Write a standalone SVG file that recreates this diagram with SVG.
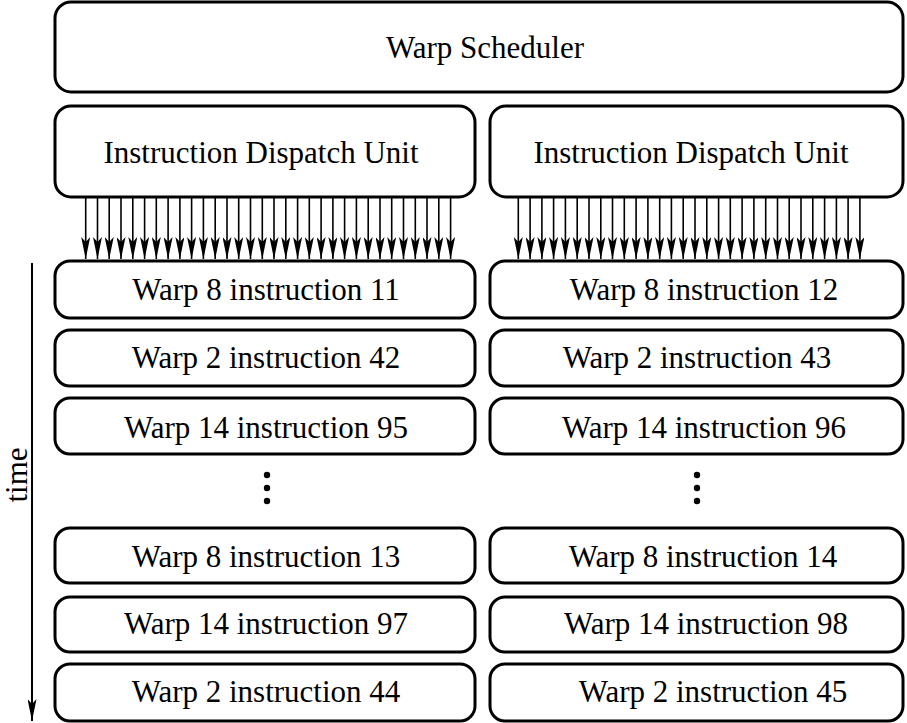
<svg xmlns="http://www.w3.org/2000/svg" width="907" height="723" viewBox="0 0 907 723">
<defs>
<style>
.box{fill:#fff;stroke:#000;stroke-width:3}
.t{font-family:"Liberation Serif","Times New Roman",serif;font-size:31px;fill:#000;text-anchor:middle}
#connectors line{stroke:#000;stroke-width:1.6;marker-end:url(#ah)}
</style>
<marker id="ah" viewBox="0 0 22 9" refX="22" refY="4.5" markerWidth="22" markerHeight="9" markerUnits="userSpaceOnUse" orient="auto">
<path d="M0,0 L22,4.5 L0,9 L5,4.5 Z" fill="#000"/>
</marker>
</defs>
<rect width="907" height="723" fill="#fff"/>
<g id="warp-scheduler"><rect class="box" x="55" y="2" width="848" height="90" rx="16"/><text class="t" x="485" y="58">Warp Scheduler</text></g>
<g id="dispatch-left"><rect class="box" x="55" y="106" width="420" height="91" rx="16"/><text class="t" x="261" y="163">Instruction Dispatch Unit</text></g>
<g id="dispatch-right"><rect class="box" x="490" y="106" width="413" height="91" rx="16"/><text class="t" x="691" y="163">Instruction Dispatch Unit</text></g>
<g id="l1"><rect class="box" x="55" y="261" width="420" height="57" rx="15"/><text class="t" x="266" y="300">Warp 8 instruction 11</text></g>
<g id="l2"><rect class="box" x="55" y="330" width="420" height="56" rx="15"/><text class="t" x="266" y="368">Warp 2 instruction 42</text></g>
<g id="l3"><rect class="box" x="55" y="398" width="420" height="56" rx="15"/><text class="t" x="266" y="438">Warp 14 instruction 95</text></g>
<g id="l4"><rect class="box" x="55" y="528" width="420" height="55" rx="15"/><text class="t" x="266" y="567">Warp 8 instruction 13</text></g>
<g id="l5"><rect class="box" x="55" y="597" width="420" height="55" rx="15"/><text class="t" x="266" y="634">Warp 14 instruction 97</text></g>
<g id="l6"><rect class="box" x="55" y="664" width="420" height="57" rx="15"/><text class="t" x="266" y="702">Warp 2 instruction 44</text></g>
<g id="r1"><rect class="box" x="490" y="261" width="413" height="57" rx="15"/><text class="t" x="704" y="300">Warp 8 instruction 12</text></g>
<g id="r2"><rect class="box" x="490" y="330" width="413" height="56" rx="15"/><text class="t" x="697" y="368">Warp 2 instruction 43</text></g>
<g id="r3"><rect class="box" x="490" y="398" width="413" height="56" rx="15"/><text class="t" x="704" y="438">Warp 14 instruction 96</text></g>
<g id="r4"><rect class="box" x="490" y="528" width="413" height="55" rx="15"/><text class="t" x="703" y="567">Warp 8 instruction 14</text></g>
<g id="r5"><rect class="box" x="490" y="597" width="413" height="55" rx="15"/><text class="t" x="706" y="634">Warp 14 instruction 98</text></g>
<g id="r6"><rect class="box" x="490" y="664" width="413" height="57" rx="15"/><text class="t" x="713" y="702">Warp 2 instruction 45</text></g>
<g id="ellipsis" fill="#000"><circle cx="267" cy="475" r="3.2"/><circle cx="267" cy="488" r="3.2"/><circle cx="267" cy="501" r="3.2"/><circle cx="697" cy="475" r="3.2"/><circle cx="697" cy="488" r="3.2"/><circle cx="697" cy="501" r="3.2"/></g>
<g id="time-axis"><line x1="32" y1="263" x2="32" y2="721" stroke="#000" stroke-width="2" marker-end="url(#ah)"/><text class="t" transform="translate(27,475) rotate(-90)" x="0" y="0">time</text></g>
<g id="connectors">
<line x1="85.7" y1="197" x2="85.7" y2="259"/><line x1="97.5" y1="197" x2="97.5" y2="259"/><line x1="109.2" y1="197" x2="109.2" y2="259"/><line x1="121" y1="197" x2="121" y2="259"/><line x1="132.8" y1="197" x2="132.8" y2="259"/><line x1="144.6" y1="197" x2="144.6" y2="259"/><line x1="156.3" y1="197" x2="156.3" y2="259"/><line x1="168.1" y1="197" x2="168.1" y2="259"/><line x1="179.9" y1="197" x2="179.9" y2="259"/><line x1="191.6" y1="197" x2="191.6" y2="259"/><line x1="203.4" y1="197" x2="203.4" y2="259"/><line x1="215.2" y1="197" x2="215.2" y2="259"/><line x1="227" y1="197" x2="227" y2="259"/><line x1="238.7" y1="197" x2="238.7" y2="259"/><line x1="250.5" y1="197" x2="250.5" y2="259"/><line x1="262.3" y1="197" x2="262.3" y2="259"/><line x1="274" y1="197" x2="274" y2="259"/><line x1="285.8" y1="197" x2="285.8" y2="259"/><line x1="297.6" y1="197" x2="297.6" y2="259"/><line x1="309.3" y1="197" x2="309.3" y2="259"/><line x1="321.1" y1="197" x2="321.1" y2="259"/><line x1="332.9" y1="197" x2="332.9" y2="259"/><line x1="344.6" y1="197" x2="344.6" y2="259"/><line x1="356.4" y1="197" x2="356.4" y2="259"/><line x1="368.2" y1="197" x2="368.2" y2="259"/><line x1="380" y1="197" x2="380" y2="259"/><line x1="391.7" y1="197" x2="391.7" y2="259"/><line x1="403.5" y1="197" x2="403.5" y2="259"/><line x1="415.3" y1="197" x2="415.3" y2="259"/><line x1="427" y1="197" x2="427" y2="259"/><line x1="438.8" y1="197" x2="438.8" y2="259"/><line x1="450.6" y1="197" x2="450.6" y2="259"/>
<line x1="518.3" y1="197" x2="518.3" y2="259"/><line x1="530.1" y1="197" x2="530.1" y2="259"/><line x1="541.9" y1="197" x2="541.9" y2="259"/><line x1="553.6" y1="197" x2="553.6" y2="259"/><line x1="565.4" y1="197" x2="565.4" y2="259"/><line x1="577.2" y1="197" x2="577.2" y2="259"/><line x1="589" y1="197" x2="589" y2="259"/><line x1="600.8" y1="197" x2="600.8" y2="259"/><line x1="612.5" y1="197" x2="612.5" y2="259"/><line x1="624.3" y1="197" x2="624.3" y2="259"/><line x1="636.1" y1="197" x2="636.1" y2="259"/><line x1="647.9" y1="197" x2="647.9" y2="259"/><line x1="659.7" y1="197" x2="659.7" y2="259"/><line x1="671.4" y1="197" x2="671.4" y2="259"/><line x1="683.2" y1="197" x2="683.2" y2="259"/><line x1="695" y1="197" x2="695" y2="259"/><line x1="706.8" y1="197" x2="706.8" y2="259"/><line x1="718.6" y1="197" x2="718.6" y2="259"/><line x1="730.3" y1="197" x2="730.3" y2="259"/><line x1="742.1" y1="197" x2="742.1" y2="259"/><line x1="753.9" y1="197" x2="753.9" y2="259"/><line x1="765.7" y1="197" x2="765.7" y2="259"/><line x1="777.5" y1="197" x2="777.5" y2="259"/><line x1="789.2" y1="197" x2="789.2" y2="259"/><line x1="801" y1="197" x2="801" y2="259"/><line x1="812.8" y1="197" x2="812.8" y2="259"/><line x1="824.6" y1="197" x2="824.6" y2="259"/><line x1="836.4" y1="197" x2="836.4" y2="259"/><line x1="848.1" y1="197" x2="848.1" y2="259"/><line x1="859.9" y1="197" x2="859.9" y2="259"/>
</g>
</svg>
